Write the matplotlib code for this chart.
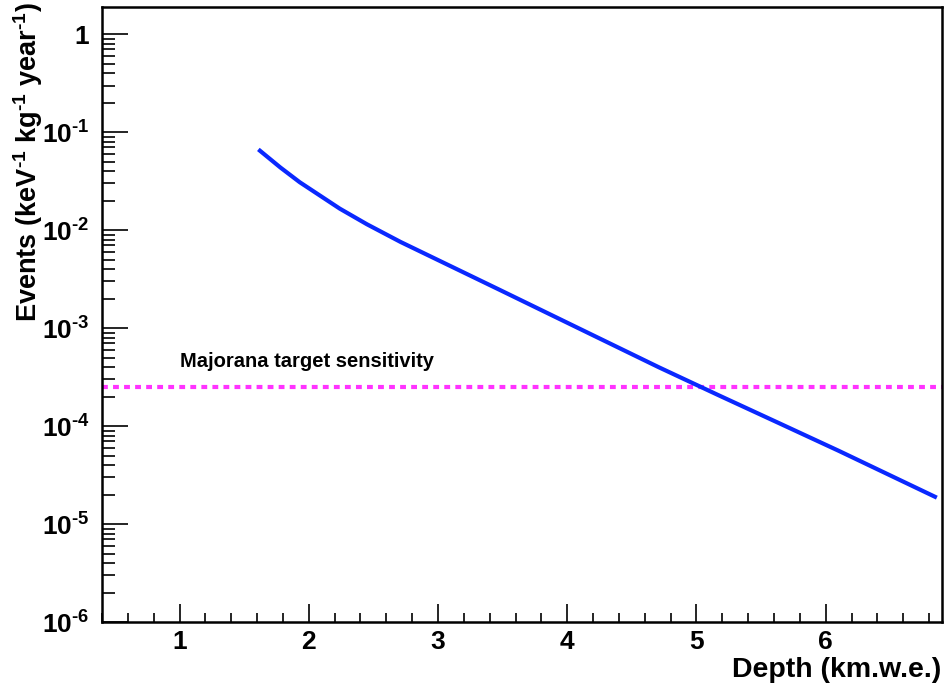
import numpy as np
import matplotlib
matplotlib.use("Agg")
import matplotlib.pyplot as plt
from matplotlib.ticker import FixedLocator, FuncFormatter, LogLocator, MultipleLocator, NullFormatter

# Data
depth = [1.61, 1.78, 1.93, 2.24, 2.45, 2.71, 3.48, 4.10, 4.71, 5.18, 5.64, 6.10, 6.86]
events = [0.0668, 0.0437, 0.0309, 0.0166, 0.0115, 0.00759, 0.00245, 9.8e-4, 3.98e-4,
          2.04e-4, 1.07e-4, 5.6e-5, 1.86e-5]
sensitivity = 2.5e-4
x_ticks = [1, 2, 3, 4, 5, 6]
y_ticks = [1e-6, 1e-5, 1e-4, 1e-3, 1e-2, 1e-1, 1]

plt.rcParams['font.family'] = ['Liberation Sans', 'DejaVu Sans']
plt.rcParams['font.weight'] = 'bold'
plt.rcParams['mathtext.fontset'] = 'custom'
plt.rcParams['mathtext.rm'] = 'Liberation Sans:bold'
plt.rcParams['mathtext.bf'] = 'Liberation Sans:bold'
plt.rcParams['mathtext.it'] = 'Liberation Sans:bold'
plt.rcParams['axes.unicode_minus'] = False

fig = plt.figure(figsize=(9.45, 6.9), dpi=100)
ax = fig.add_axes([102/945, 1-622/690, (942-102)/945, (622-7)/690])

ax.plot(depth, events, color='#0a28ff', lw=3.0, solid_capstyle='butt',
        solid_joinstyle='round', zorder=3)
ax.axhline(sensitivity, color='#ff33ff', lw=3.0, dashes=(1.4, 1.25), zorder=2)
ax.text(1.0, 4.0e-4, 'Majorana target sensitivity', fontsize=14.5, fontweight='bold',
        ha='left', va='baseline')

ax.set_yscale('log')
ax.set_xlim(0.4, 6.9)
ax.set_ylim(1e-6, 1.9)

ax.xaxis.set_major_locator(FixedLocator(x_ticks))
ax.xaxis.set_minor_locator(MultipleLocator(0.2))
ax.yaxis.set_major_locator(FixedLocator(y_ticks))
ax.yaxis.set_minor_locator(LogLocator(base=10, subs=np.arange(2, 10), numticks=20))
ax.yaxis.set_minor_formatter(NullFormatter())

def yfmt(v, pos):
    e = int(round(np.log10(v)))
    if e == 0:
        return '1'
    return r'10$^{\text{-%d}}$' % (-e)

ax.yaxis.set_major_formatter(FuncFormatter(yfmt))
ax.xaxis.set_major_formatter(FuncFormatter(lambda v, p: '%d' % v))

ax.tick_params(axis='both', which='both', direction='in', top=False, right=False,
               width=1.2, colors='black')
ax.tick_params(axis='y', which='major', length=19, labelsize=19, pad=9)
ax.tick_params(axis='y', which='minor', length=9.5)
ax.tick_params(axis='x', which='major', length=13, labelsize=19, pad=6)
ax.tick_params(axis='x', which='minor', length=6.5)
for lab in ax.get_xticklabels() + ax.get_yticklabels():
    lab.set_fontweight('bold')
for s in ax.spines.values():
    s.set_linewidth(1.8)

fig.text(28/945, 1-2/690, r'Events (keV$^{\text{-1}}$ kg$^{\text{-1}}$ year$^{\text{-1}}$)', rotation=90,
         ha='center', va='top', fontsize=19.5, fontweight='bold')
fig.text(941/945, 1-670/690, 'Depth (km.w.e.)', ha='right', va='center',
         fontsize=20.5, fontweight='bold')

fig.savefig('out.png', dpi=100)
